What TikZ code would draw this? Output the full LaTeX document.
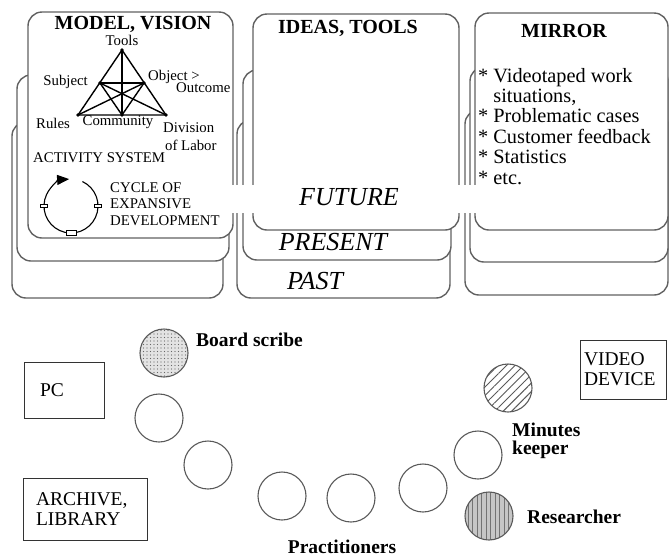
\documentclass[tikz,border=0pt]{standalone}
\usepackage{fontspec}
\setmainfont{Liberation Serif}
\usetikzlibrary{patterns.meta, arrows.meta}

\begin{document}
\begin{tikzpicture}[x=1pt, y=-1pt,
  card/.style={draw=black!62, line width=1.4pt, rounded corners=14pt, fill=white},
  head/.style={font=\fontsize{20}{20}\selectfont\bfseries, inner sep=0pt},
  body/.style={font=\fontsize{20.3}{20}\selectfont, inner sep=0pt},
  bodybold/.style={font=\fontsize{19.5}{20}\selectfont\bfseries, inner sep=0pt},
  small/.style={font=\fontsize{14.8}{16}\selectfont, inner sep=0pt},
  tense/.style={font=\fontsize{26}{26}\selectfont\itshape, inner sep=0pt},
  seat/.style={circle, draw=black!65, line width=1.1pt, minimum size=48pt, inner sep=0pt},
  thing/.style={draw=black!80, line width=1pt, font=\fontsize{19.5}{20}\selectfont,
                align=left, inner ysep=0pt},
  vtx/.style={circle, fill=black, inner sep=0pt, minimum size=3.6pt},
  edge/.style={line width=1.4pt},
  station/.style={draw, fill=white, line width=0.8pt, inner sep=0pt,
                  minimum width=7pt, minimum height=3.5pt}
]
\useasboundingbox (0,0) rectangle (670,558);

% ---- stacked cards: past (back), present, future (front) ----
% model / vision column
\draw[card] (12,122) rectangle (223,298);
\draw[card] (17,75) rectangle (229,261);
\draw[card] (28,12) rectangle (233,238);
% ideas / tools column
\draw[card] (237,120) rectangle (450,298);
\draw[card] (243,70) rectangle (451,260);
\draw[card] (253,14) rectangle (459,230);
% mirror column
\draw[card] (465,110) rectangle (668,295);
\draw[card] (470,67) rectangle (668,262);
\draw[card] (475,13) rectangle (668,230);

% time layers
\node[fill=white, minimum width=253pt, minimum height=28pt, inner sep=0pt] (band) at (352.5,199) {};
\node[tense] (future) at (349,197) {FUTURE};
\node[tense] (present) at (333,242) {PRESENT};
\node[tense] (past) at (315,281) {PAST};

% column headings
\node[head] (model) at (133,24) {MODEL, VISION};
\node[head] (ideas) at (348,28) {IDEAS, TOOLS};
\node[head] (mirror) at (564,31) {MIRROR};

% mirror contents
\node[body, anchor=base west] (m1) at (478,82) {* Videotaped work};
\node[body, anchor=base west] (m2) at (478,102.4) {\hphantom{* }situations,};
\node[body, anchor=base west] (m3) at (478,122.8) {* Problematic cases};
\node[body, anchor=base west] (m4) at (478,143.2) {* Customer feedback};
\node[body, anchor=base west] (m5) at (478,163.6) {* Statistics};
\node[body, anchor=base west] (m6) at (478,184) {* etc.};

% activity system triangle
\coordinate (T) at (122,50);
\coordinate (S) at (100,83);
\coordinate (O) at (144,83);
\coordinate (R) at (78,115);
\coordinate (C) at (122,115);
\coordinate (D) at (166,115);
\draw[edge, line join=round] (T) -- (R) -- (D) -- cycle;
\draw[edge] (S) -- (O);
\draw[edge] (T) -- (C);
\draw[edge] (S) -- (D);
\draw[edge] (O) -- (R);
\draw[edge] (S) -- (C) -- (O);
\foreach \v in {T,S,O,R,C,D} \node[vtx] at (\v) {};

\node[small] (ltools) at (122,40) {Tools};
\node[small, anchor=east] (lsubj) at (88,82) {Subject};
\node[small, anchor=west] (lobj) at (148,77) {Object >};
\node[small, anchor=west] (lout) at (176,88) {Outcome};
\node[small, anchor=west] (lrules) at (36,123) {Rules};
\node[small] (lcomm) at (118,122) {Community};
\node[small, anchor=west] (ldiv) at (163,128) {Division};
\node[small, anchor=west] (llab) at (165,145) {of Labor};
\node[small, anchor=west] (lact) at (33,158) {ACTIVITY SYSTEM};

% cycle of expansive development
\coordinate (cyc) at (71,206);
\draw[line width=1.1pt, -{Triangle[length=12pt,width=10pt]}]
  (cyc) ++(-65:27) arc[start angle=-65, end angle=266, radius=27];
\node[station] (st1) at (44,206) {};
\node[station] (st2) at (98,206) {};
\node[station, minimum width=10pt, minimum height=5pt] (st3) at (71,233) {};
\node[small, anchor=west] (lc1) at (110,188) {CYCLE OF};
\node[small, anchor=west] (lc2) at (110,204) {EXPANSIVE};
\node[small, anchor=west] (lc3) at (110,221) {DEVELOPMENT};

% ---- seating ----
\node[seat, preaction={fill=gray!22}, pattern={Dots[distance=3.5pt, radius=0.55pt]},
      pattern color=black!60] (bs) at (164,353) {};
\node[seat] (p1) at (159,418) {};
\node[seat] (p2) at (208,465) {};
\node[seat] (p3) at (282,496) {};
\node[seat] (p4) at (351,498) {};
\node[seat] (p5) at (423,488) {};
\node[seat] (p6) at (478,455) {};
\node[seat, pattern={Lines[angle=45, distance=6pt, line width=0.9pt]},
      pattern color=black!65] (mk) at (508,388) {};
\node[seat, preaction={fill=gray!45}, pattern={Lines[angle=90, distance=4.5pt, line width=0.6pt]},
      pattern color=black!55] (rs) at (489,516) {};

\node[bodybold, anchor=west] (lbs) at (196,340) {Board scribe};
\node[bodybold, anchor=west] (lmk1) at (512,430) {Minutes};
\node[bodybold, anchor=west] (lmk2) at (512,450) {keeper};
\node[bodybold, anchor=west] (lrs) at (527,517) {Researcher};
\node[bodybold] (lpr) at (342,547) {Practitioners};

% equipment
\node[thing, minimum width=80pt, minimum height=56pt, text width=48pt, inner xsep=16pt]
  (pc) at (64,390) {PC};
\node[thing, minimum width=124pt, minimum height=62pt, text width=98pt, inner xsep=13pt]
  (arch) at (85,509) {ARCHIVE,\\LIBRARY};
\node[thing, minimum width=86pt, minimum height=59pt, text width=78pt, inner xsep=4pt]
  (video) at (623,369.5) {VIDEO\\DEVICE};
\end{tikzpicture}
\end{document}
